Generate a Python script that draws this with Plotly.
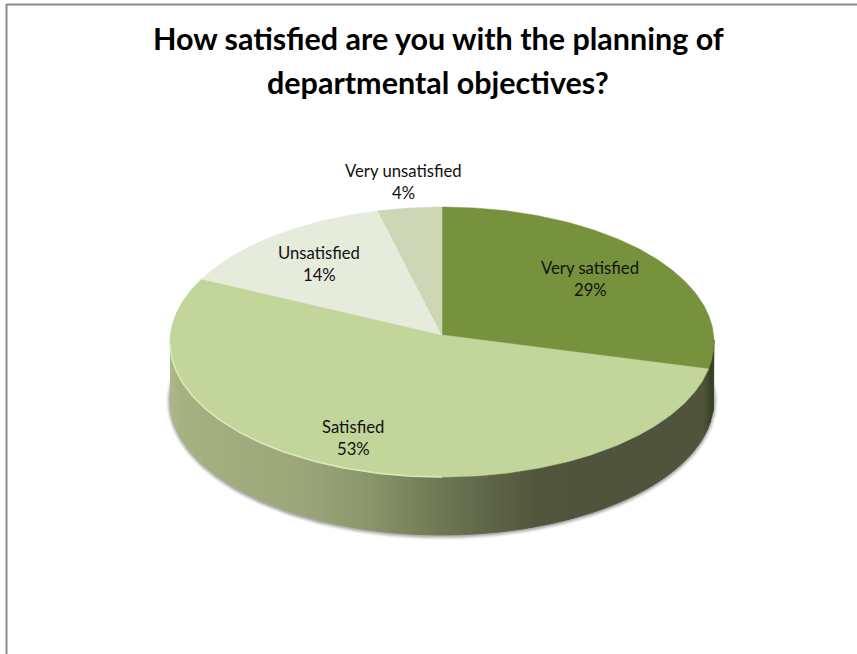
import numpy as np
import plotly.graph_objects as go

# Survey results
categories = ["Very satisfied", "Satisfied", "Unsatisfied", "Very unsatisfied"]
percent_values = [29, 53, 14, 4]
slice_colors = ["#77923C", "#C2D59A", "#E6ECDB", "#CDD7B6"]
title_lines = ["How satisfied are you with the planning of", "departmental objectives?"]

# Label anchor for each category
label_x = [590, 353, 319, 403]
label_y = [268, 427, 253, 171]

# Side wall shading, left to right across the disc
wall_stop_x = [170, 180, 300, 370, 430, 480, 540, 600, 704, 709, 714]
wall_stop_r = [172, 166, 156, 138, 114, 98, 82, 80, 80, 62, 45]
wall_stop_g = [184, 178, 167, 150, 124, 106, 86, 84, 84, 72, 58]
wall_stop_b = [136, 130, 122, 108, 86, 74, 60, 60, 60, 40, 28]

# Disc geometry
CX, CY, RX, RY = 442.0, 342.0, 272.0, 135.0
DEPTH = 58.0
TILT = -0.052  # moves the apex towards the far side of the disc


def disc_point(frac):
    """Project a pie fraction (clockwise from 12 o'clock) onto the tilted disc."""
    theta = 2 * np.pi * np.asarray(frac)
    u, v = np.sin(theta), -np.cos(theta)
    d = 1 + TILT * v
    x = u * np.sqrt(1 - TILT ** 2) / d
    y = (v + TILT) / d
    return CX + RX * x, CY + RY * y


def front_edge(x):
    t = np.clip((x - CX) / RX, -1, 1)
    return CY + RY * np.sqrt(1 - t ** 2)


fig = go.Figure()

# Soft shadow just outside the bottom of the wall
ang = np.linspace(0, 2 * np.pi, 240)
for grow, alpha in [(4, 0.06), (3, 0.09), (2, 0.13), (1, 0.18)]:
    fig.add_trace(go.Scatter(
        x=CX + (RX + grow) * np.cos(ang),
        y=CY + DEPTH + 1 + (RY + grow) * np.sin(ang),
        mode="lines", line=dict(width=0), fill="toself",
        fillcolor=f"rgba(60,60,60,{alpha})", hoverinfo="skip", showlegend=False,
    ))

# Side wall, built from narrow vertical strips
edges = np.arange(170.0, 714.5, 3.0)
edges = np.append(edges, 714.0)
for x0, x1 in zip(edges[:-1], edges[1:]):
    xm = (x0 + x1) / 2
    rgb = (np.interp(xm, wall_stop_x, wall_stop_r),
           np.interp(xm, wall_stop_x, wall_stop_g),
           np.interp(xm, wall_stop_x, wall_stop_b))
    color = "rgb(%d,%d,%d)" % rgb
    xs = np.linspace(x0, x1, 4)
    top = front_edge(xs) - 2
    bottom = front_edge(xs) + DEPTH
    fig.add_trace(go.Scatter(
        x=np.r_[xs, xs[::-1]], y=np.r_[top, bottom[::-1]],
        mode="lines", line=dict(width=0.8, color=color), fill="toself",
        fillcolor=color, hoverinfo="skip", showlegend=False,
    ))

# Top face slices
total = sum(percent_values)
start = 0.0
for name, value, color in zip(categories, percent_values, slice_colors):
    end = start + value / total
    fr = np.linspace(start, end, max(int(value * 6), 12))
    ex, ey = disc_point(fr)
    ax, ay = disc_point(0.0)[0], CY + RY * TILT
    fig.add_trace(go.Scatter(
        x=np.r_[ax, ex, ax], y=np.r_[ay, ey, ay],
        mode="lines", line=dict(width=0.5, color=color), fill="toself",
        fillcolor=color, name=name, text=f"{name}: {value}%",
        hoverinfo="text", showlegend=False,
    ))
    start = end

# Light bevel along the near rim of the large slice
bx, by = disc_point(np.linspace(0.5, 0.74, 90))
fig.add_trace(go.Scatter(
    x=bx, y=by, mode="lines", line=dict(width=1.6, color="#DCEAB6"),
    hoverinfo="skip", showlegend=False,
))

annotations = []
for i, line in enumerate(title_lines):
    annotations.append(dict(
        x=438, y=38 + 44 * i, xref="x", yref="y", text=f"<b>{line}</b>", showarrow=False,
        font=dict(family="Lato", size=30.5, color="#000000"),
    ))
for name, value, lx, ly in zip(categories, percent_values, label_x, label_y):
    for j, line in enumerate([name, f"{value}%"]):
        annotations.append(dict(
            x=lx, y=ly + 22 * j, xref="x", yref="y", text=line, showarrow=False,
            font=dict(family="Lato", size=16.7, color="#111111"),
        ))

fig.update_layout(
    width=857, height=654, margin=dict(l=0, r=0, t=0, b=0),
    paper_bgcolor="white", plot_bgcolor="white",
    xaxis=dict(range=[0, 857], visible=False, fixedrange=True),
    yaxis=dict(range=[654, 0], visible=False, fixedrange=True),
    annotations=annotations,
    shapes=[
        dict(type="line", xref="x", yref="y", x0=6, y0=4.5, x1=857, y1=4.5,
             line=dict(color="#8C8C8C", width=2)),
        dict(type="line", xref="x", yref="y", x0=6.5, y0=4, x1=6.5, y1=654,
             line=dict(color="#8C8C8C", width=2)),
    ],
)

fig.write_html("out.html", config={"displayModeBar": False})
